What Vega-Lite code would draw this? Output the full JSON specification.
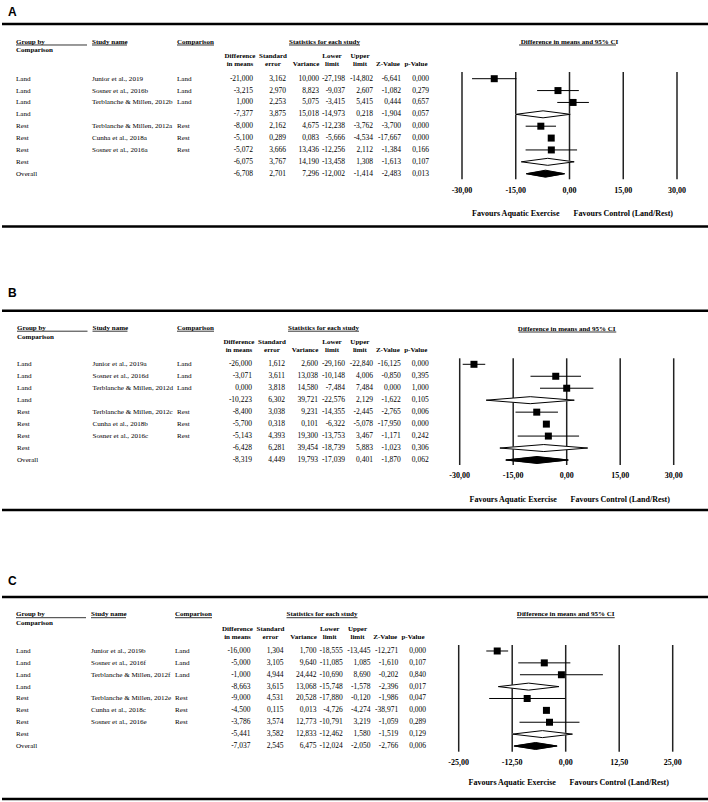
{
"$schema":"https://vega.github.io/schema/vega-lite/v6.json",
"padding":0,
"background":"white",
"spacing":0,
"config":{"font":"Liberation Serif","view":{"stroke":null},"axis":{"disable":true},"concat":{"spacing":0},
"locale":{"number":{"decimal":",","thousands":".","grouping":[3],"currency":["",""],"minus":"-"}}},
"datasets":{
"A":[
{"row":1,"type":"study","group":"Land","study":"Junior et al., 2019","comparison":"Land","diff":-21.000,"se":3.162,"variance":10.000,"lower":-27.198,"upper":-14.802,"z":-6.641,"p":0.000},
{"row":2,"type":"study","group":"Land","study":"Sosner et al., 2016b","comparison":"Land","diff":-3.215,"se":2.970,"variance":8.823,"lower":-9.037,"upper":2.607,"z":-1.082,"p":0.279},
{"row":3,"type":"study","group":"Land","study":"Terblanche & Millen, 2012b","comparison":"Land","diff":1.000,"se":2.253,"variance":5.075,"lower":-3.415,"upper":5.415,"z":0.444,"p":0.657},
{"row":4,"type":"subgroup","group":"Land","study":"","comparison":"","diff":-7.377,"se":3.875,"variance":15.018,"lower":-14.973,"upper":0.218,"z":-1.904,"p":0.057},
{"row":5,"type":"study","group":"Rest","study":"Terblanche & Millen, 2012a","comparison":"Rest","diff":-8.000,"se":2.162,"variance":4.675,"lower":-12.238,"upper":-3.762,"z":-3.700,"p":0.000},
{"row":6,"type":"study","group":"Rest","study":"Cunha et al., 2018a","comparison":"Rest","diff":-5.100,"se":0.289,"variance":0.083,"lower":-5.666,"upper":-4.534,"z":-17.667,"p":0.000},
{"row":7,"type":"study","group":"Rest","study":"Sosner et al., 2016a","comparison":"Rest","diff":-5.072,"se":3.666,"variance":13.436,"lower":-12.256,"upper":2.112,"z":-1.384,"p":0.166},
{"row":8,"type":"subgroup","group":"Rest","study":"","comparison":"","diff":-6.075,"se":3.767,"variance":14.190,"lower":-13.458,"upper":1.308,"z":-1.613,"p":0.107},
{"row":9,"type":"overall","group":"Overall","study":"","comparison":"","diff":-6.708,"se":2.701,"variance":7.296,"lower":-12.002,"upper":-1.414,"z":-2.483,"p":0.013}
],
"B":[
{"row":1,"type":"study","group":"Land","study":"Junior et al., 2019a","comparison":"Land","diff":-26.000,"se":1.612,"variance":2.600,"lower":-29.160,"upper":-22.840,"z":-16.125,"p":0.000},
{"row":2,"type":"study","group":"Land","study":"Sosner et al., 2016d","comparison":"Land","diff":-3.071,"se":3.611,"variance":13.038,"lower":-10.148,"upper":4.006,"z":-0.850,"p":0.395},
{"row":3,"type":"study","group":"Land","study":"Terblanche & Millen, 2012d","comparison":"Land","diff":0.000,"se":3.818,"variance":14.580,"lower":-7.484,"upper":7.484,"z":0.000,"p":1.000},
{"row":4,"type":"subgroup","group":"Land","study":"","comparison":"","diff":-10.223,"se":6.302,"variance":39.721,"lower":-22.576,"upper":2.129,"z":-1.622,"p":0.105},
{"row":5,"type":"study","group":"Rest","study":"Terblanche & Millen, 2012c","comparison":"Rest","diff":-8.400,"se":3.038,"variance":9.231,"lower":-14.355,"upper":-2.445,"z":-2.765,"p":0.006},
{"row":6,"type":"study","group":"Rest","study":"Cunha et al., 2018b","comparison":"Rest","diff":-5.700,"se":0.318,"variance":0.101,"lower":-6.322,"upper":-5.078,"z":-17.950,"p":0.000},
{"row":7,"type":"study","group":"Rest","study":"Sosner et al., 2016c","comparison":"Rest","diff":-5.143,"se":4.393,"variance":19.300,"lower":-13.753,"upper":3.467,"z":-1.171,"p":0.242},
{"row":8,"type":"subgroup","group":"Rest","study":"","comparison":"","diff":-6.428,"se":6.281,"variance":39.454,"lower":-18.739,"upper":5.883,"z":-1.023,"p":0.306},
{"row":9,"type":"overall","group":"Overall","study":"","comparison":"","diff":-8.319,"se":4.449,"variance":19.793,"lower":-17.039,"upper":0.401,"z":-1.870,"p":0.062}
],
"C":[
{"row":1,"type":"study","group":"Land","study":"Junior et al., 2019b","comparison":"Land","diff":-16.000,"se":1.304,"variance":1.700,"lower":-18.555,"upper":-13.445,"z":-12.271,"p":0.000},
{"row":2,"type":"study","group":"Land","study":"Sosner et al., 2016f","comparison":"Land","diff":-5.000,"se":3.105,"variance":9.640,"lower":-11.085,"upper":1.085,"z":-1.610,"p":0.107},
{"row":3,"type":"study","group":"Land","study":"Terblanche & Millen, 2012f","comparison":"Land","diff":-1.000,"se":4.944,"variance":24.442,"lower":-10.690,"upper":8.690,"z":-0.202,"p":0.840},
{"row":4,"type":"subgroup","group":"Land","study":"","comparison":"","diff":-8.663,"se":3.615,"variance":13.068,"lower":-15.748,"upper":-1.578,"z":-2.396,"p":0.017},
{"row":5,"type":"study","group":"Rest","study":"Terblanche & Millen, 2012e","comparison":"Rest","diff":-9.000,"se":4.531,"variance":20.528,"lower":-17.880,"upper":-0.120,"z":-1.986,"p":0.047},
{"row":6,"type":"study","group":"Rest","study":"Cunha et al., 2018c","comparison":"Rest","diff":-4.500,"se":0.115,"variance":0.013,"lower":-4.726,"upper":-4.274,"z":-38.971,"p":0.000},
{"row":7,"type":"study","group":"Rest","study":"Sosner et al., 2016e","comparison":"Rest","diff":-3.786,"se":3.574,"variance":12.773,"lower":-10.791,"upper":3.219,"z":-1.059,"p":0.289},
{"row":8,"type":"subgroup","group":"Rest","study":"","comparison":"","diff":-5.441,"se":3.582,"variance":12.833,"lower":-12.462,"upper":1.580,"z":-1.519,"p":0.129},
{"row":9,"type":"overall","group":"Overall","study":"","comparison":"","diff":-7.037,"se":2.545,"variance":6.475,"lower":-12.024,"upper":-2.050,"z":-2.766,"p":0.006}
],
"hdrL":[{"key":"group","h1":"Group by","h2":"Comparison"},{"key":"study","h1":"Study name","h2":""}],
"hdrN":[{"key":"diff","h1":"Difference","h2":"in means"},{"key":"se","h1":"Standard","h2":"error"},{"key":"variance","h1":"","h2":"Variance"},{"key":"lower","h1":"Lower","h2":"limit"},{"key":"upper","h1":"Upper","h2":"limit"},{"key":"z","h1":"","h2":"Z-Value"},{"key":"p","h1":"","h2":"p-Value"}],
"ticksAB":[{"t":-30},{"t":-15},{"t":0},{"t":15},{"t":30}],
"ticksC":[{"t":-25},{"t":-12.5},{"t":0},{"t":12.5},{"t":25}]
},
"vconcat":[
{
"width":708,"height":287,
"resolve":{"scale":{"x":"independent"}},
"layer":[
{"layer":[
{"data":{"values":[{}]},"mark":{"type":"rule","strokeWidth":2.5,"color":"black","xOffset":13},"encoding":{"y":{"datum":-3.606,"type":"quantitative","scale":{"domain":[-5.627,18.541],"reverse":true,"nice":false,"zero":false}}}},
{"data":{"values":[{}]},"mark":{"type":"rule","strokeWidth":2.5,"color":"black","xOffset":13},"encoding":{"y":{"datum":13.445,"type":"quantitative","scale":{"domain":[-5.627,18.541],"reverse":true,"nice":false,"zero":false}}}},
{"data":{"values":[{}]},"mark":{"type":"text","fontSize":7,"fontWeight":"bold","color":"black","align":"center","baseline":"middle"},"encoding":{"x":{"datum":0,"type":"quantitative","scale":{"domain":[-30,30],"range":[460,675],"nice":false,"zero":false}},"y":{"datum":-2.091,"type":"quantitative","scale":{"domain":[-5.627,18.541],"reverse":true,"nice":false,"zero":false}},"text":{"value":"Difference in means and 95% CI"}}},
{"data":{"values":[{}]},"mark":{"type":"rule","strokeWidth":0.8,"color":"black"},"encoding":{"x":{"datum":-14.09,"type":"quantitative","scale":{"domain":[-30,30],"range":[460,675],"nice":false,"zero":false}},"x2":{"datum":12.98},"y":{"datum":-1.838,"type":"quantitative","scale":{"domain":[-5.627,18.541],"reverse":true,"nice":false,"zero":false}}}},
{"data":{"name":"ticksAB"},"mark":{"type":"rule","strokeWidth":1.5,"color":"#222222"},"encoding":{"x":{"field":"t","type":"quantitative","scale":{"domain":[-30,30],"range":[460,675],"nice":false,"zero":false}},"y":{"datum":0.436,"type":"quantitative","scale":{"domain":[-5.627,18.541],"reverse":true,"nice":false,"zero":false}},"y2":{"datum":9.472}}},
{"data":{"name":"ticksAB"},"mark":{"type":"text","fontSize":8,"fontWeight":"bold","color":"black","align":"center","baseline":"middle"},"encoding":{"x":{"field":"t","type":"quantitative","scale":{"domain":[-30,30],"range":[460,675],"nice":false,"zero":false}},"y":{"datum":10.457,"type":"quantitative","scale":{"domain":[-5.627,18.541],"reverse":true,"nice":false,"zero":false}},"text":{"field":"t","type":"quantitative","format":".2f"}}},
{"data":{"values":[{}]},"mark":{"type":"text","fontSize":8,"fontWeight":"bold","color":"black","align":"center","baseline":"middle"},"encoding":{"x":{"datum":-15,"type":"quantitative","scale":{"domain":[-30,30],"range":[460,675],"nice":false,"zero":false}},"y":{"datum":12.394,"type":"quantitative","scale":{"domain":[-5.627,18.541],"reverse":true,"nice":false,"zero":false}},"text":{"value":"Favours Aquatic Exercise"}}},
{"data":{"values":[{}]},"mark":{"type":"text","fontSize":8,"fontWeight":"bold","color":"black","align":"center","baseline":"middle"},"encoding":{"x":{"datum":15,"type":"quantitative","scale":{"domain":[-30,30],"range":[460,675],"nice":false,"zero":false}},"y":{"datum":12.394,"type":"quantitative","scale":{"domain":[-5.627,18.541],"reverse":true,"nice":false,"zero":false}},"text":{"value":"Favours Control (Land/Rest)"}}},
{"data":{"name":"A"},"transform":[{"filter":{"field":"type","equal":"study"}}],"mark":{"type":"rule","strokeWidth":1,"color":"black"},"encoding":{"x":{"field":"lower","type":"quantitative","scale":{"domain":[-30,30],"range":[460,675],"nice":false,"zero":false}},"x2":{"field":"upper"},"y":{"field":"row","type":"quantitative","scale":{"domain":[-5.627,18.541],"reverse":true,"nice":false,"zero":false}}}},
{"data":{"name":"A"},"transform":[{"filter":{"field":"type","equal":"subgroup"}},{"fold":["lower","diff","upper"],"as":["k","v"]}],"mark":{"type":"trail","color":"white"},"encoding":{"x":{"field":"v","type":"quantitative","scale":{"domain":[-30,30],"range":[460,675],"nice":false,"zero":false}},"y":{"field":"row","type":"quantitative","scale":{"domain":[-5.627,18.541],"reverse":true,"nice":false,"zero":false}},"detail":{"field":"row","type":"nominal"},"size":{"condition":{"test":"datum.k === 'diff'","value":7},"value":0}}},
{"data":{"name":"A"},"transform":[{"filter":{"field":"type","equal":"overall"}},{"fold":["lower","diff","upper"],"as":["k","v"]}],"mark":{"type":"trail","color":"black"},"encoding":{"x":{"field":"v","type":"quantitative","scale":{"domain":[-30,30],"range":[460,675],"nice":false,"zero":false}},"y":{"field":"row","type":"quantitative","scale":{"domain":[-5.627,18.541],"reverse":true,"nice":false,"zero":false}},"detail":{"field":"row","type":"nominal"},"size":{"condition":{"test":"datum.k === 'diff'","value":7},"value":0}}},
{"data":{"name":"A"},"transform":[{"filter":"datum.type !== 'study'"}],"mark":{"type":"rule","strokeWidth":1,"color":"black","y2Offset":-3.5},"encoding":{"x":{"field":"lower","type":"quantitative","scale":{"domain":[-30,30],"range":[460,675],"nice":false,"zero":false}},"x2":{"field":"diff"},"y":{"field":"row","type":"quantitative","scale":{"domain":[-5.627,18.541],"reverse":true,"nice":false,"zero":false}},"y2":{"field":"row"}}},
{"data":{"name":"A"},"transform":[{"filter":"datum.type !== 'study'"}],"mark":{"type":"rule","strokeWidth":1,"color":"black","y2Offset":3.5},"encoding":{"x":{"field":"lower","type":"quantitative","scale":{"domain":[-30,30],"range":[460,675],"nice":false,"zero":false}},"x2":{"field":"diff"},"y":{"field":"row","type":"quantitative","scale":{"domain":[-5.627,18.541],"reverse":true,"nice":false,"zero":false}},"y2":{"field":"row"}}},
{"data":{"name":"A"},"transform":[{"filter":"datum.type !== 'study'"}],"mark":{"type":"rule","strokeWidth":1,"color":"black","yOffset":-3.5},"encoding":{"x":{"field":"diff","type":"quantitative","scale":{"domain":[-30,30],"range":[460,675],"nice":false,"zero":false}},"x2":{"field":"upper"},"y":{"field":"row","type":"quantitative","scale":{"domain":[-5.627,18.541],"reverse":true,"nice":false,"zero":false}},"y2":{"field":"row"}}},
{"data":{"name":"A"},"transform":[{"filter":"datum.type !== 'study'"}],"mark":{"type":"rule","strokeWidth":1,"color":"black","yOffset":3.5},"encoding":{"x":{"field":"diff","type":"quantitative","scale":{"domain":[-30,30],"range":[460,675],"nice":false,"zero":false}},"x2":{"field":"upper"},"y":{"field":"row","type":"quantitative","scale":{"domain":[-5.627,18.541],"reverse":true,"nice":false,"zero":false}},"y2":{"field":"row"}}},
{"data":{"name":"A"},"transform":[{"filter":{"field":"type","equal":"study"}}],"mark":{"type":"point","shape":"square","filled":true,"size":49,"color":"black","opacity":1},"encoding":{"x":{"field":"diff","type":"quantitative","scale":{"domain":[-30,30],"range":[460,675],"nice":false,"zero":false}},"y":{"field":"row","type":"quantitative","scale":{"domain":[-5.627,18.541],"reverse":true,"nice":false,"zero":false}}}}
]},
{"layer":[
{"data":{"values":[{}]},"mark":{"type":"text","font":"Liberation Sans","fontSize":12,"fontWeight":"bold","color":"black","align":"left","baseline":"alphabetic","dx":-8},"encoding":{"x":{"datum":"group","type":"nominal","scale":{"type":"point","domain":["group","study"],"range":[14,90],"padding":0}},"y":{"datum":-4.28,"type":"quantitative","scale":{"domain":[-5.627,18.541],"reverse":true,"nice":false,"zero":false}},"text":{"value":"A"}}},
{"data":{"name":"A"},"transform":[{"fold":["group","study"],"as":["key","txt"]}],"mark":{"type":"text","fontSize":7.1,"color":"black","align":"left","baseline":"middle"},"encoding":{"x":{"field":"key","type":"nominal","scale":{"type":"point","domain":["group","study"],"range":[14,90],"padding":0}},"y":{"field":"row","type":"quantitative","scale":{"domain":[-5.627,18.541],"reverse":true,"nice":false,"zero":false}},"text":{"field":"txt","type":"nominal"}}},
{"data":{"name":"hdrL"},"mark":{"type":"text","fontSize":7,"fontWeight":"bold","color":"black","align":"left","baseline":"middle"},"encoding":{"x":{"field":"key","type":"nominal","scale":{"type":"point","domain":["group","study"],"range":[14,90],"padding":0}},"y":{"datum":-2.091,"type":"quantitative","scale":{"domain":[-5.627,18.541],"reverse":true,"nice":false,"zero":false}},"text":{"field":"h1","type":"nominal"}}},
{"data":{"name":"hdrL"},"mark":{"type":"text","fontSize":7,"fontWeight":"bold","color":"black","align":"left","baseline":"middle"},"encoding":{"x":{"field":"key","type":"nominal","scale":{"type":"point","domain":["group","study"],"range":[14,90],"padding":0}},"y":{"datum":-1.417,"type":"quantitative","scale":{"domain":[-5.627,18.541],"reverse":true,"nice":false,"zero":false}},"text":{"field":"h2","type":"nominal"}}},
{"data":{"values":[{}]},"mark":{"type":"rule","strokeWidth":0.8,"color":"black","x2Offset":-5},"encoding":{"x":{"datum":"group","type":"nominal","scale":{"type":"point","domain":["group","study"],"range":[14,90],"padding":0}},"x2":{"datum":"study"},"y":{"datum":-1.838,"type":"quantitative","scale":{"domain":[-5.627,18.541],"reverse":true,"nice":false,"zero":false}}}},
{"data":{"values":[{}]},"mark":{"type":"rule","strokeWidth":0.8,"color":"black","x2Offset":35},"encoding":{"x":{"datum":"study","type":"nominal","scale":{"type":"point","domain":["group","study"],"range":[14,90],"padding":0}},"x2":{"datum":"study"},"y":{"datum":-1.838,"type":"quantitative","scale":{"domain":[-5.627,18.541],"reverse":true,"nice":false,"zero":false}}}}
]},
{"layer":[
{"data":{"name":"A"},"mark":{"type":"text","fontSize":7.1,"color":"black","align":"left","baseline":"middle"},"encoding":{"x":{"datum":"comparison","type":"nominal","scale":{"type":"point","domain":["comparison"],"range":[175,175],"padding":0}},"y":{"field":"row","type":"quantitative","scale":{"domain":[-5.627,18.541],"reverse":true,"nice":false,"zero":false}},"text":{"field":"comparison","type":"nominal"}}},
{"data":{"values":[{}]},"mark":{"type":"text","fontSize":7,"fontWeight":"bold","color":"black","align":"left","baseline":"middle"},"encoding":{"x":{"datum":"comparison","type":"nominal","scale":{"type":"point","domain":["comparison"],"range":[175,175],"padding":0}},"y":{"datum":-2.091,"type":"quantitative","scale":{"domain":[-5.627,18.541],"reverse":true,"nice":false,"zero":false}},"text":{"value":"Comparison"}}},
{"data":{"values":[{}]},"mark":{"type":"rule","strokeWidth":0.8,"color":"black","x2Offset":37},"encoding":{"x":{"datum":"comparison","type":"nominal","scale":{"type":"point","domain":["comparison"],"range":[175,175],"padding":0}},"x2":{"datum":"comparison"},"y":{"datum":-1.838,"type":"quantitative","scale":{"domain":[-5.627,18.541],"reverse":true,"nice":false,"zero":false}}}}
]},
{"layer":[
{"data":{"name":"A"},"transform":[{"fold":["diff","se","variance"],"as":["key","val"]}],"mark":{"type":"text","fontSize":7.5,"color":"black","align":"right","baseline":"middle"},"encoding":{"x":{"field":"key","type":"nominal","scale":{"type":"point","domain":["diff","se","variance"],"range":[251,317],"padding":0}},"y":{"field":"row","type":"quantitative","scale":{"domain":[-5.627,18.541],"reverse":true,"nice":false,"zero":false}},"text":{"field":"val","type":"quantitative","format":".3f"}}},
{"data":{"name":"hdrN"},"transform":[{"filter":{"field":"key","oneOf":["diff","se","variance"]}}],"mark":{"type":"text","fontSize":7,"fontWeight":"bold","color":"black","align":"center","baseline":"middle","dx":-13},"encoding":{"x":{"field":"key","type":"nominal","scale":{"type":"point","domain":["diff","se","variance"],"range":[251,317],"padding":0}},"y":{"datum":-0.912,"type":"quantitative","scale":{"domain":[-5.627,18.541],"reverse":true,"nice":false,"zero":false}},"text":{"field":"h1","type":"nominal"}}},
{"data":{"name":"hdrN"},"transform":[{"filter":{"field":"key","oneOf":["diff","se","variance"]}}],"mark":{"type":"text","fontSize":7,"fontWeight":"bold","color":"black","align":"center","baseline":"middle","dx":-13},"encoding":{"x":{"field":"key","type":"nominal","scale":{"type":"point","domain":["diff","se","variance"],"range":[251,317],"padding":0}},"y":{"datum":-0.238,"type":"quantitative","scale":{"domain":[-5.627,18.541],"reverse":true,"nice":false,"zero":false}},"text":{"field":"h2","type":"nominal"}}},
{"data":{"values":[{}]},"mark":{"type":"text","fontSize":7,"fontWeight":"bold","color":"black","align":"center","baseline":"middle","dx":5.5},"encoding":{"x":{"datum":"variance","type":"nominal","scale":{"type":"point","domain":["diff","se","variance"],"range":[251,317],"padding":0}},"y":{"datum":-2.091,"type":"quantitative","scale":{"domain":[-5.627,18.541],"reverse":true,"nice":false,"zero":false}},"text":{"value":"Statistics for each study"}}},
{"data":{"values":[{}]},"mark":{"type":"rule","strokeWidth":0.8,"color":"black","xOffset":3,"x2Offset":41},"encoding":{"x":{"datum":"se","type":"nominal","scale":{"type":"point","domain":["diff","se","variance"],"range":[251,317],"padding":0}},"x2":{"datum":"variance"},"y":{"datum":-1.838,"type":"quantitative","scale":{"domain":[-5.627,18.541],"reverse":true,"nice":false,"zero":false}}}}
]},
{"layer":[
{"data":{"name":"A"},"transform":[{"fold":["lower","upper","z","p"],"as":["key","val"]}],"mark":{"type":"text","fontSize":7.5,"color":"black","align":"right","baseline":"middle"},"encoding":{"x":{"field":"key","type":"nominal","scale":{"type":"point","domain":["lower","upper","z","p"],"range":[343,427],"padding":0}},"y":{"field":"row","type":"quantitative","scale":{"domain":[-5.627,18.541],"reverse":true,"nice":false,"zero":false}},"text":{"field":"val","type":"quantitative","format":".3f"}}},
{"data":{"name":"hdrN"},"transform":[{"filter":{"field":"key","oneOf":["lower","upper","z","p"]}}],"mark":{"type":"text","fontSize":7,"fontWeight":"bold","color":"black","align":"center","baseline":"middle","dx":-13},"encoding":{"x":{"field":"key","type":"nominal","scale":{"type":"point","domain":["lower","upper","z","p"],"range":[343,427],"padding":0}},"y":{"datum":-0.912,"type":"quantitative","scale":{"domain":[-5.627,18.541],"reverse":true,"nice":false,"zero":false}},"text":{"field":"h1","type":"nominal"}}},
{"data":{"name":"hdrN"},"transform":[{"filter":{"field":"key","oneOf":["lower","upper","z","p"]}}],"mark":{"type":"text","fontSize":7,"fontWeight":"bold","color":"black","align":"center","baseline":"middle","dx":-13},"encoding":{"x":{"field":"key","type":"nominal","scale":{"type":"point","domain":["lower","upper","z","p"],"range":[343,427],"padding":0}},"y":{"datum":-0.238,"type":"quantitative","scale":{"domain":[-5.627,18.541],"reverse":true,"nice":false,"zero":false}},"text":{"field":"h2","type":"nominal"}}}
]}
]
},
{
"width":708,"height":287,
"resolve":{"scale":{"x":"independent"}},
"layer":[
{"layer":[
{"data":{"values":[{}]},"mark":{"type":"rule","strokeWidth":2.5,"color":"black","xOffset":13},"encoding":{"y":{"datum":-3.481,"type":"quantitative","scale":{"domain":[-5.462,18.53],"reverse":true,"nice":false,"zero":false}}}},
{"data":{"values":[{}]},"mark":{"type":"rule","strokeWidth":2.5,"color":"black","xOffset":13,"x2Offset":-6},"encoding":{"y":{"datum":13.179,"type":"quantitative","scale":{"domain":[-5.462,18.53],"reverse":true,"nice":false,"zero":false}}}},
{"data":{"values":[{}]},"mark":{"type":"text","fontSize":7,"fontWeight":"bold","color":"black","align":"center","baseline":"middle"},"encoding":{"x":{"datum":0,"type":"quantitative","scale":{"domain":[-30,30],"range":[457.7,671.7],"nice":false,"zero":false}},"y":{"datum":-1.926,"type":"quantitative","scale":{"domain":[-5.462,18.53],"reverse":true,"nice":false,"zero":false}},"text":{"value":"Difference in means and 95% CI"}}},
{"data":{"values":[{}]},"mark":{"type":"rule","strokeWidth":0.8,"color":"black"},"encoding":{"x":{"datum":-13.46,"type":"quantitative","scale":{"domain":[-30,30],"range":[457.7,671.7],"nice":false,"zero":false}},"x2":{"datum":13.9},"y":{"datum":-1.7,"type":"quantitative","scale":{"domain":[-5.462,18.53],"reverse":true,"nice":false,"zero":false}}}},
{"data":{"name":"ticksAB"},"mark":{"type":"rule","strokeWidth":1.5,"color":"#222222"},"encoding":{"x":{"field":"t","type":"quantitative","scale":{"domain":[-30,30],"range":[457.7,671.7],"nice":false,"zero":false}},"y":{"datum":0.498,"type":"quantitative","scale":{"domain":[-5.462,18.53],"reverse":true,"nice":false,"zero":false}},"y2":{"datum":9.418}}},
{"data":{"name":"ticksAB"},"mark":{"type":"text","fontSize":8,"fontWeight":"bold","color":"black","align":"center","baseline":"middle"},"encoding":{"x":{"field":"t","type":"quantitative","scale":{"domain":[-30,30],"range":[457.7,671.7],"nice":false,"zero":false}},"y":{"datum":10.312,"type":"quantitative","scale":{"domain":[-5.462,18.53],"reverse":true,"nice":false,"zero":false}},"text":{"field":"t","type":"quantitative","format":".2f"}}},
{"data":{"values":[{}]},"mark":{"type":"text","fontSize":8,"fontWeight":"bold","color":"black","align":"center","baseline":"middle"},"encoding":{"x":{"datum":-15,"type":"quantitative","scale":{"domain":[-30,30],"range":[457.7,671.7],"nice":false,"zero":false}},"y":{"datum":12.344,"type":"quantitative","scale":{"domain":[-5.462,18.53],"reverse":true,"nice":false,"zero":false}},"text":{"value":"Favours Aquatic Exercise"}}},
{"data":{"values":[{}]},"mark":{"type":"text","fontSize":8,"fontWeight":"bold","color":"black","align":"center","baseline":"middle"},"encoding":{"x":{"datum":15,"type":"quantitative","scale":{"domain":[-30,30],"range":[457.7,671.7],"nice":false,"zero":false}},"y":{"datum":12.344,"type":"quantitative","scale":{"domain":[-5.462,18.53],"reverse":true,"nice":false,"zero":false}},"text":{"value":"Favours Control (Land/Rest)"}}},
{"data":{"name":"B"},"transform":[{"filter":{"field":"type","equal":"study"}}],"mark":{"type":"rule","strokeWidth":1,"color":"black"},"encoding":{"x":{"field":"lower","type":"quantitative","scale":{"domain":[-30,30],"range":[457.7,671.7],"nice":false,"zero":false}},"x2":{"field":"upper"},"y":{"field":"row","type":"quantitative","scale":{"domain":[-5.462,18.53],"reverse":true,"nice":false,"zero":false}}}},
{"data":{"name":"B"},"transform":[{"filter":{"field":"type","equal":"subgroup"}},{"fold":["lower","diff","upper"],"as":["k","v"]}],"mark":{"type":"trail","color":"white"},"encoding":{"x":{"field":"v","type":"quantitative","scale":{"domain":[-30,30],"range":[457.7,671.7],"nice":false,"zero":false}},"y":{"field":"row","type":"quantitative","scale":{"domain":[-5.462,18.53],"reverse":true,"nice":false,"zero":false}},"detail":{"field":"row","type":"nominal"},"size":{"condition":{"test":"datum.k === 'diff'","value":7},"value":0}}},
{"data":{"name":"B"},"transform":[{"filter":{"field":"type","equal":"overall"}},{"fold":["lower","diff","upper"],"as":["k","v"]}],"mark":{"type":"trail","color":"black"},"encoding":{"x":{"field":"v","type":"quantitative","scale":{"domain":[-30,30],"range":[457.7,671.7],"nice":false,"zero":false}},"y":{"field":"row","type":"quantitative","scale":{"domain":[-5.462,18.53],"reverse":true,"nice":false,"zero":false}},"detail":{"field":"row","type":"nominal"},"size":{"condition":{"test":"datum.k === 'diff'","value":7},"value":0}}},
{"data":{"name":"B"},"transform":[{"filter":"datum.type !== 'study'"}],"mark":{"type":"rule","strokeWidth":1,"color":"black","y2Offset":-3.5},"encoding":{"x":{"field":"lower","type":"quantitative","scale":{"domain":[-30,30],"range":[457.7,671.7],"nice":false,"zero":false}},"x2":{"field":"diff"},"y":{"field":"row","type":"quantitative","scale":{"domain":[-5.462,18.53],"reverse":true,"nice":false,"zero":false}},"y2":{"field":"row"}}},
{"data":{"name":"B"},"transform":[{"filter":"datum.type !== 'study'"}],"mark":{"type":"rule","strokeWidth":1,"color":"black","y2Offset":3.5},"encoding":{"x":{"field":"lower","type":"quantitative","scale":{"domain":[-30,30],"range":[457.7,671.7],"nice":false,"zero":false}},"x2":{"field":"diff"},"y":{"field":"row","type":"quantitative","scale":{"domain":[-5.462,18.53],"reverse":true,"nice":false,"zero":false}},"y2":{"field":"row"}}},
{"data":{"name":"B"},"transform":[{"filter":"datum.type !== 'study'"}],"mark":{"type":"rule","strokeWidth":1,"color":"black","yOffset":-3.5},"encoding":{"x":{"field":"diff","type":"quantitative","scale":{"domain":[-30,30],"range":[457.7,671.7],"nice":false,"zero":false}},"x2":{"field":"upper"},"y":{"field":"row","type":"quantitative","scale":{"domain":[-5.462,18.53],"reverse":true,"nice":false,"zero":false}},"y2":{"field":"row"}}},
{"data":{"name":"B"},"transform":[{"filter":"datum.type !== 'study'"}],"mark":{"type":"rule","strokeWidth":1,"color":"black","yOffset":3.5},"encoding":{"x":{"field":"diff","type":"quantitative","scale":{"domain":[-30,30],"range":[457.7,671.7],"nice":false,"zero":false}},"x2":{"field":"upper"},"y":{"field":"row","type":"quantitative","scale":{"domain":[-5.462,18.53],"reverse":true,"nice":false,"zero":false}},"y2":{"field":"row"}}},
{"data":{"name":"B"},"transform":[{"filter":{"field":"type","equal":"study"}}],"mark":{"type":"point","shape":"square","filled":true,"size":49,"color":"black","opacity":1},"encoding":{"x":{"field":"diff","type":"quantitative","scale":{"domain":[-30,30],"range":[457.7,671.7],"nice":false,"zero":false}},"y":{"field":"row","type":"quantitative","scale":{"domain":[-5.462,18.53],"reverse":true,"nice":false,"zero":false}}}}
]},
{"layer":[
{"data":{"values":[{}]},"mark":{"type":"text","font":"Liberation Sans","fontSize":12,"fontWeight":"bold","color":"black","align":"left","baseline":"alphabetic","dx":-9},"encoding":{"x":{"datum":"group","type":"nominal","scale":{"type":"point","domain":["group","study"],"range":[15,90.5],"padding":0}},"y":{"datum":-4.626,"type":"quantitative","scale":{"domain":[-5.462,18.53],"reverse":true,"nice":false,"zero":false}},"text":{"value":"B"}}},
{"data":{"name":"B"},"transform":[{"fold":["group","study"],"as":["key","txt"]}],"mark":{"type":"text","fontSize":7.1,"color":"black","align":"left","baseline":"middle"},"encoding":{"x":{"field":"key","type":"nominal","scale":{"type":"point","domain":["group","study"],"range":[15,90.5],"padding":0}},"y":{"field":"row","type":"quantitative","scale":{"domain":[-5.462,18.53],"reverse":true,"nice":false,"zero":false}},"text":{"field":"txt","type":"nominal"}}},
{"data":{"name":"hdrL"},"mark":{"type":"text","fontSize":7,"fontWeight":"bold","color":"black","align":"left","baseline":"middle"},"encoding":{"x":{"field":"key","type":"nominal","scale":{"type":"point","domain":["group","study"],"range":[15,90.5],"padding":0}},"y":{"datum":-2.06,"type":"quantitative","scale":{"domain":[-5.462,18.53],"reverse":true,"nice":false,"zero":false}},"text":{"field":"h1","type":"nominal"}}},
{"data":{"name":"hdrL"},"mark":{"type":"text","fontSize":7,"fontWeight":"bold","color":"black","align":"left","baseline":"middle"},"encoding":{"x":{"field":"key","type":"nominal","scale":{"type":"point","domain":["group","study"],"range":[15,90.5],"padding":0}},"y":{"datum":-1.307,"type":"quantitative","scale":{"domain":[-5.462,18.53],"reverse":true,"nice":false,"zero":false}},"text":{"field":"h2","type":"nominal"}}},
{"data":{"values":[{}]},"mark":{"type":"rule","strokeWidth":0.8,"color":"black","x2Offset":-5},"encoding":{"x":{"datum":"group","type":"nominal","scale":{"type":"point","domain":["group","study"],"range":[15,90.5],"padding":0}},"x2":{"datum":"study"},"y":{"datum":-1.767,"type":"quantitative","scale":{"domain":[-5.462,18.53],"reverse":true,"nice":false,"zero":false}}}},
{"data":{"values":[{}]},"mark":{"type":"rule","strokeWidth":0.8,"color":"black","x2Offset":35},"encoding":{"x":{"datum":"study","type":"nominal","scale":{"type":"point","domain":["group","study"],"range":[15,90.5],"padding":0}},"x2":{"datum":"study"},"y":{"datum":-1.767,"type":"quantitative","scale":{"domain":[-5.462,18.53],"reverse":true,"nice":false,"zero":false}}}}
]},
{"layer":[
{"data":{"name":"B"},"mark":{"type":"text","fontSize":7.1,"color":"black","align":"left","baseline":"middle"},"encoding":{"x":{"datum":"comparison","type":"nominal","scale":{"type":"point","domain":["comparison"],"range":[175,175],"padding":0}},"y":{"field":"row","type":"quantitative","scale":{"domain":[-5.462,18.53],"reverse":true,"nice":false,"zero":false}},"text":{"field":"comparison","type":"nominal"}}},
{"data":{"values":[{}]},"mark":{"type":"text","fontSize":7,"fontWeight":"bold","color":"black","align":"left","baseline":"middle"},"encoding":{"x":{"datum":"comparison","type":"nominal","scale":{"type":"point","domain":["comparison"],"range":[175,175],"padding":0}},"y":{"datum":-2.06,"type":"quantitative","scale":{"domain":[-5.462,18.53],"reverse":true,"nice":false,"zero":false}},"text":{"value":"Comparison"}}},
{"data":{"values":[{}]},"mark":{"type":"rule","strokeWidth":0.8,"color":"black","x2Offset":37},"encoding":{"x":{"datum":"comparison","type":"nominal","scale":{"type":"point","domain":["comparison"],"range":[175,175],"padding":0}},"x2":{"datum":"comparison"},"y":{"datum":-1.767,"type":"quantitative","scale":{"domain":[-5.462,18.53],"reverse":true,"nice":false,"zero":false}}}}
]},
{"layer":[
{"data":{"name":"B"},"transform":[{"fold":["diff","se","variance"],"as":["key","val"]}],"mark":{"type":"text","fontSize":7.5,"color":"black","align":"right","baseline":"middle"},"encoding":{"x":{"field":"key","type":"nominal","scale":{"type":"point","domain":["diff","se","variance"],"range":[250,316],"padding":0}},"y":{"field":"row","type":"quantitative","scale":{"domain":[-5.462,18.53],"reverse":true,"nice":false,"zero":false}},"text":{"field":"val","type":"quantitative","format":".3f"}}},
{"data":{"name":"hdrN"},"transform":[{"filter":{"field":"key","oneOf":["diff","se","variance"]}}],"mark":{"type":"text","fontSize":7,"fontWeight":"bold","color":"black","align":"center","baseline":"middle","dx":-13},"encoding":{"x":{"field":"key","type":"nominal","scale":{"type":"point","domain":["diff","se","variance"],"range":[250,316],"padding":0}},"y":{"datum":-0.889,"type":"quantitative","scale":{"domain":[-5.462,18.53],"reverse":true,"nice":false,"zero":false}},"text":{"field":"h1","type":"nominal"}}},
{"data":{"name":"hdrN"},"transform":[{"filter":{"field":"key","oneOf":["diff","se","variance"]}}],"mark":{"type":"text","fontSize":7,"fontWeight":"bold","color":"black","align":"center","baseline":"middle","dx":-13},"encoding":{"x":{"field":"key","type":"nominal","scale":{"type":"point","domain":["diff","se","variance"],"range":[250,316],"padding":0}},"y":{"datum":-0.196,"type":"quantitative","scale":{"domain":[-5.462,18.53],"reverse":true,"nice":false,"zero":false}},"text":{"field":"h2","type":"nominal"}}},
{"data":{"values":[{}]},"mark":{"type":"text","fontSize":7,"fontWeight":"bold","color":"black","align":"center","baseline":"middle","dx":5.5},"encoding":{"x":{"datum":"variance","type":"nominal","scale":{"type":"point","domain":["diff","se","variance"],"range":[250,316],"padding":0}},"y":{"datum":-2.06,"type":"quantitative","scale":{"domain":[-5.462,18.53],"reverse":true,"nice":false,"zero":false}},"text":{"value":"Statistics for each study"}}},
{"data":{"values":[{}]},"mark":{"type":"rule","strokeWidth":0.8,"color":"black","xOffset":3,"x2Offset":41},"encoding":{"x":{"datum":"se","type":"nominal","scale":{"type":"point","domain":["diff","se","variance"],"range":[250,316],"padding":0}},"x2":{"datum":"variance"},"y":{"datum":-1.767,"type":"quantitative","scale":{"domain":[-5.462,18.53],"reverse":true,"nice":false,"zero":false}}}}
]},
{"layer":[
{"data":{"name":"B"},"transform":[{"fold":["lower","upper","z","p"],"as":["key","val"]}],"mark":{"type":"text","fontSize":7.5,"color":"black","align":"right","baseline":"middle"},"encoding":{"x":{"field":"key","type":"nominal","scale":{"type":"point","domain":["lower","upper","z","p"],"range":[343,426.7],"padding":0}},"y":{"field":"row","type":"quantitative","scale":{"domain":[-5.462,18.53],"reverse":true,"nice":false,"zero":false}},"text":{"field":"val","type":"quantitative","format":".3f"}}},
{"data":{"name":"hdrN"},"transform":[{"filter":{"field":"key","oneOf":["lower","upper","z","p"]}}],"mark":{"type":"text","fontSize":7,"fontWeight":"bold","color":"black","align":"center","baseline":"middle","dx":-13},"encoding":{"x":{"field":"key","type":"nominal","scale":{"type":"point","domain":["lower","upper","z","p"],"range":[343,426.7],"padding":0}},"y":{"datum":-0.889,"type":"quantitative","scale":{"domain":[-5.462,18.53],"reverse":true,"nice":false,"zero":false}},"text":{"field":"h1","type":"nominal"}}},
{"data":{"name":"hdrN"},"transform":[{"filter":{"field":"key","oneOf":["lower","upper","z","p"]}}],"mark":{"type":"text","fontSize":7,"fontWeight":"bold","color":"black","align":"center","baseline":"middle","dx":-13},"encoding":{"x":{"field":"key","type":"nominal","scale":{"type":"point","domain":["lower","upper","z","p"],"range":[343,426.7],"padding":0}},"y":{"datum":-0.196,"type":"quantitative","scale":{"domain":[-5.462,18.53],"reverse":true,"nice":false,"zero":false}},"text":{"field":"h2","type":"nominal"}}}
]}
]
},
{
"width":708,"height":228,
"resolve":{"scale":{"x":"independent"}},
"layer":[
{"layer":[
{"data":{"values":[{}]},"mark":{"type":"rule","strokeWidth":2.5,"color":"black","xOffset":13,"x2Offset":-2},"encoding":{"y":{"datum":-3.547,"type":"quantitative","scale":{"domain":[-5.484,13.716],"reverse":true,"nice":false,"zero":false}}}},
{"data":{"values":[{}]},"mark":{"type":"rule","strokeWidth":2.5,"color":"black","xOffset":13,"x2Offset":-2},"encoding":{"y":{"datum":13.463,"type":"quantitative","scale":{"domain":[-5.484,13.716],"reverse":true,"nice":false,"zero":false}}}},
{"data":{"values":[{}]},"mark":{"type":"text","fontSize":7,"fontWeight":"bold","color":"black","align":"center","baseline":"middle"},"encoding":{"x":{"datum":0,"type":"quantitative","scale":{"domain":[-25,25],"range":[456.7,670.7],"nice":false,"zero":false}},"y":{"datum":-2.116,"type":"quantitative","scale":{"domain":[-5.484,13.716],"reverse":true,"nice":false,"zero":false}},"text":{"value":"Difference in means and 95% CI"}}},
{"data":{"values":[{}]},"mark":{"type":"rule","strokeWidth":0.8,"color":"black"},"encoding":{"x":{"datum":-11.38,"type":"quantitative","scale":{"domain":[-25,25],"range":[456.7,670.7],"nice":false,"zero":false}},"x2":{"datum":11.45},"y":{"datum":-1.804,"type":"quantitative","scale":{"domain":[-5.484,13.716],"reverse":true,"nice":false,"zero":false}}}},
{"data":{"name":"ticksC"},"mark":{"type":"rule","strokeWidth":1.5,"color":"#222222"},"encoding":{"x":{"field":"t","type":"quantitative","scale":{"domain":[-25,25],"range":[456.7,670.7],"nice":false,"zero":false}},"y":{"datum":0.495,"type":"quantitative","scale":{"domain":[-5.484,13.716],"reverse":true,"nice":false,"zero":false}},"y2":{"datum":9.48}}},
{"data":{"name":"ticksC"},"mark":{"type":"text","fontSize":8,"fontWeight":"bold","color":"black","align":"center","baseline":"middle"},"encoding":{"x":{"field":"t","type":"quantitative","scale":{"domain":[-25,25],"range":[456.7,670.7],"nice":false,"zero":false}},"y":{"datum":10.457,"type":"quantitative","scale":{"domain":[-5.484,13.716],"reverse":true,"nice":false,"zero":false}},"text":{"field":"t","type":"quantitative","format":".2f"}}},
{"data":{"values":[{}]},"mark":{"type":"text","fontSize":8,"fontWeight":"bold","color":"black","align":"center","baseline":"middle"},"encoding":{"x":{"datum":-12.5,"type":"quantitative","scale":{"domain":[-25,25],"range":[456.7,670.7],"nice":false,"zero":false}},"y":{"datum":12.116,"type":"quantitative","scale":{"domain":[-5.484,13.716],"reverse":true,"nice":false,"zero":false}},"text":{"value":"Favours Aquatic Exercise"}}},
{"data":{"values":[{}]},"mark":{"type":"text","fontSize":8,"fontWeight":"bold","color":"black","align":"center","baseline":"middle"},"encoding":{"x":{"datum":12.5,"type":"quantitative","scale":{"domain":[-25,25],"range":[456.7,670.7],"nice":false,"zero":false}},"y":{"datum":12.116,"type":"quantitative","scale":{"domain":[-5.484,13.716],"reverse":true,"nice":false,"zero":false}},"text":{"value":"Favours Control (Land/Rest)"}}},
{"data":{"name":"C"},"transform":[{"filter":{"field":"type","equal":"study"}}],"mark":{"type":"rule","strokeWidth":1,"color":"black"},"encoding":{"x":{"field":"lower","type":"quantitative","scale":{"domain":[-25,25],"range":[456.7,670.7],"nice":false,"zero":false}},"x2":{"field":"upper"},"y":{"field":"row","type":"quantitative","scale":{"domain":[-5.484,13.716],"reverse":true,"nice":false,"zero":false}}}},
{"data":{"name":"C"},"transform":[{"filter":{"field":"type","equal":"subgroup"}},{"fold":["lower","diff","upper"],"as":["k","v"]}],"mark":{"type":"trail","color":"white"},"encoding":{"x":{"field":"v","type":"quantitative","scale":{"domain":[-25,25],"range":[456.7,670.7],"nice":false,"zero":false}},"y":{"field":"row","type":"quantitative","scale":{"domain":[-5.484,13.716],"reverse":true,"nice":false,"zero":false}},"detail":{"field":"row","type":"nominal"},"size":{"condition":{"test":"datum.k === 'diff'","value":7},"value":0}}},
{"data":{"name":"C"},"transform":[{"filter":{"field":"type","equal":"overall"}},{"fold":["lower","diff","upper"],"as":["k","v"]}],"mark":{"type":"trail","color":"black"},"encoding":{"x":{"field":"v","type":"quantitative","scale":{"domain":[-25,25],"range":[456.7,670.7],"nice":false,"zero":false}},"y":{"field":"row","type":"quantitative","scale":{"domain":[-5.484,13.716],"reverse":true,"nice":false,"zero":false}},"detail":{"field":"row","type":"nominal"},"size":{"condition":{"test":"datum.k === 'diff'","value":7},"value":0}}},
{"data":{"name":"C"},"transform":[{"filter":"datum.type !== 'study'"}],"mark":{"type":"rule","strokeWidth":1,"color":"black","y2Offset":-3.5},"encoding":{"x":{"field":"lower","type":"quantitative","scale":{"domain":[-25,25],"range":[456.7,670.7],"nice":false,"zero":false}},"x2":{"field":"diff"},"y":{"field":"row","type":"quantitative","scale":{"domain":[-5.484,13.716],"reverse":true,"nice":false,"zero":false}},"y2":{"field":"row"}}},
{"data":{"name":"C"},"transform":[{"filter":"datum.type !== 'study'"}],"mark":{"type":"rule","strokeWidth":1,"color":"black","y2Offset":3.5},"encoding":{"x":{"field":"lower","type":"quantitative","scale":{"domain":[-25,25],"range":[456.7,670.7],"nice":false,"zero":false}},"x2":{"field":"diff"},"y":{"field":"row","type":"quantitative","scale":{"domain":[-5.484,13.716],"reverse":true,"nice":false,"zero":false}},"y2":{"field":"row"}}},
{"data":{"name":"C"},"transform":[{"filter":"datum.type !== 'study'"}],"mark":{"type":"rule","strokeWidth":1,"color":"black","yOffset":-3.5},"encoding":{"x":{"field":"diff","type":"quantitative","scale":{"domain":[-25,25],"range":[456.7,670.7],"nice":false,"zero":false}},"x2":{"field":"upper"},"y":{"field":"row","type":"quantitative","scale":{"domain":[-5.484,13.716],"reverse":true,"nice":false,"zero":false}},"y2":{"field":"row"}}},
{"data":{"name":"C"},"transform":[{"filter":"datum.type !== 'study'"}],"mark":{"type":"rule","strokeWidth":1,"color":"black","yOffset":3.5},"encoding":{"x":{"field":"diff","type":"quantitative","scale":{"domain":[-25,25],"range":[456.7,670.7],"nice":false,"zero":false}},"x2":{"field":"upper"},"y":{"field":"row","type":"quantitative","scale":{"domain":[-5.484,13.716],"reverse":true,"nice":false,"zero":false}},"y2":{"field":"row"}}},
{"data":{"name":"C"},"transform":[{"filter":{"field":"type","equal":"study"}}],"mark":{"type":"point","shape":"square","filled":true,"size":49,"color":"black","opacity":1},"encoding":{"x":{"field":"diff","type":"quantitative","scale":{"domain":[-25,25],"range":[456.7,670.7],"nice":false,"zero":false}},"y":{"field":"row","type":"quantitative","scale":{"domain":[-5.484,13.716],"reverse":true,"nice":false,"zero":false}}}}
]},
{"layer":[
{"data":{"values":[{}]},"mark":{"type":"text","font":"Liberation Sans","fontSize":12,"fontWeight":"bold","color":"black","align":"left","baseline":"alphabetic","dx":-8},"encoding":{"x":{"datum":"group","type":"nominal","scale":{"type":"point","domain":["group","study"],"range":[14,89],"padding":0}},"y":{"datum":-4.558,"type":"quantitative","scale":{"domain":[-5.484,13.716],"reverse":true,"nice":false,"zero":false}},"text":{"value":"C"}}},
{"data":{"name":"C"},"transform":[{"fold":["group","study"],"as":["key","txt"]}],"mark":{"type":"text","fontSize":7.1,"color":"black","align":"left","baseline":"middle"},"encoding":{"x":{"field":"key","type":"nominal","scale":{"type":"point","domain":["group","study"],"range":[14,89],"padding":0}},"y":{"field":"row","type":"quantitative","scale":{"domain":[-5.484,13.716],"reverse":true,"nice":false,"zero":false}},"text":{"field":"txt","type":"nominal"}}},
{"data":{"name":"hdrL"},"mark":{"type":"text","fontSize":7,"fontWeight":"bold","color":"black","align":"left","baseline":"middle"},"encoding":{"x":{"field":"key","type":"nominal","scale":{"type":"point","domain":["group","study"],"range":[14,89],"padding":0}},"y":{"datum":-2.116,"type":"quantitative","scale":{"domain":[-5.484,13.716],"reverse":true,"nice":false,"zero":false}},"text":{"field":"h1","type":"nominal"}}},
{"data":{"name":"hdrL"},"mark":{"type":"text","fontSize":7,"fontWeight":"bold","color":"black","align":"left","baseline":"middle"},"encoding":{"x":{"field":"key","type":"nominal","scale":{"type":"point","domain":["group","study"],"range":[14,89],"padding":0}},"y":{"datum":-1.383,"type":"quantitative","scale":{"domain":[-5.484,13.716],"reverse":true,"nice":false,"zero":false}},"text":{"field":"h2","type":"nominal"}}},
{"data":{"values":[{}]},"mark":{"type":"rule","strokeWidth":0.8,"color":"black","x2Offset":-5},"encoding":{"x":{"datum":"group","type":"nominal","scale":{"type":"point","domain":["group","study"],"range":[14,89],"padding":0}},"x2":{"datum":"study"},"y":{"datum":-1.804,"type":"quantitative","scale":{"domain":[-5.484,13.716],"reverse":true,"nice":false,"zero":false}}}},
{"data":{"values":[{}]},"mark":{"type":"rule","strokeWidth":0.8,"color":"black","x2Offset":35},"encoding":{"x":{"datum":"study","type":"nominal","scale":{"type":"point","domain":["group","study"],"range":[14,89],"padding":0}},"x2":{"datum":"study"},"y":{"datum":-1.804,"type":"quantitative","scale":{"domain":[-5.484,13.716],"reverse":true,"nice":false,"zero":false}}}}
]},
{"layer":[
{"data":{"name":"C"},"mark":{"type":"text","fontSize":7.1,"color":"black","align":"left","baseline":"middle"},"encoding":{"x":{"datum":"comparison","type":"nominal","scale":{"type":"point","domain":["comparison"],"range":[173,173],"padding":0}},"y":{"field":"row","type":"quantitative","scale":{"domain":[-5.484,13.716],"reverse":true,"nice":false,"zero":false}},"text":{"field":"comparison","type":"nominal"}}},
{"data":{"values":[{}]},"mark":{"type":"text","fontSize":7,"fontWeight":"bold","color":"black","align":"left","baseline":"middle"},"encoding":{"x":{"datum":"comparison","type":"nominal","scale":{"type":"point","domain":["comparison"],"range":[173,173],"padding":0}},"y":{"datum":-2.116,"type":"quantitative","scale":{"domain":[-5.484,13.716],"reverse":true,"nice":false,"zero":false}},"text":{"value":"Comparison"}}},
{"data":{"values":[{}]},"mark":{"type":"rule","strokeWidth":0.8,"color":"black","x2Offset":37},"encoding":{"x":{"datum":"comparison","type":"nominal","scale":{"type":"point","domain":["comparison"],"range":[173,173],"padding":0}},"x2":{"datum":"comparison"},"y":{"datum":-1.804,"type":"quantitative","scale":{"domain":[-5.484,13.716],"reverse":true,"nice":false,"zero":false}}}}
]},
{"layer":[
{"data":{"name":"C"},"transform":[{"fold":["diff","se","variance"],"as":["key","val"]}],"mark":{"type":"text","fontSize":7.5,"color":"black","align":"right","baseline":"middle"},"encoding":{"x":{"field":"key","type":"nominal","scale":{"type":"point","domain":["diff","se","variance"],"range":[248.5,314.5],"padding":0}},"y":{"field":"row","type":"quantitative","scale":{"domain":[-5.484,13.716],"reverse":true,"nice":false,"zero":false}},"text":{"field":"val","type":"quantitative","format":".3f"}}},
{"data":{"name":"hdrN"},"transform":[{"filter":{"field":"key","oneOf":["diff","se","variance"]}}],"mark":{"type":"text","fontSize":7,"fontWeight":"bold","color":"black","align":"center","baseline":"middle","dx":-13},"encoding":{"x":{"field":"key","type":"nominal","scale":{"type":"point","domain":["diff","se","variance"],"range":[248.5,314.5],"padding":0}},"y":{"datum":-0.853,"type":"quantitative","scale":{"domain":[-5.484,13.716],"reverse":true,"nice":false,"zero":false}},"text":{"field":"h1","type":"nominal"}}},
{"data":{"name":"hdrN"},"transform":[{"filter":{"field":"key","oneOf":["diff","se","variance"]}}],"mark":{"type":"text","fontSize":7,"fontWeight":"bold","color":"black","align":"center","baseline":"middle","dx":-13},"encoding":{"x":{"field":"key","type":"nominal","scale":{"type":"point","domain":["diff","se","variance"],"range":[248.5,314.5],"padding":0}},"y":{"datum":-0.154,"type":"quantitative","scale":{"domain":[-5.484,13.716],"reverse":true,"nice":false,"zero":false}},"text":{"field":"h2","type":"nominal"}}},
{"data":{"values":[{}]},"mark":{"type":"text","fontSize":7,"fontWeight":"bold","color":"black","align":"center","baseline":"middle","dx":5.5},"encoding":{"x":{"datum":"variance","type":"nominal","scale":{"type":"point","domain":["diff","se","variance"],"range":[248.5,314.5],"padding":0}},"y":{"datum":-2.116,"type":"quantitative","scale":{"domain":[-5.484,13.716],"reverse":true,"nice":false,"zero":false}},"text":{"value":"Statistics for each study"}}},
{"data":{"values":[{}]},"mark":{"type":"rule","strokeWidth":0.8,"color":"black","xOffset":3,"x2Offset":41},"encoding":{"x":{"datum":"se","type":"nominal","scale":{"type":"point","domain":["diff","se","variance"],"range":[248.5,314.5],"padding":0}},"x2":{"datum":"variance"},"y":{"datum":-1.804,"type":"quantitative","scale":{"domain":[-5.484,13.716],"reverse":true,"nice":false,"zero":false}}}}
]},
{"layer":[
{"data":{"name":"C"},"transform":[{"fold":["lower","upper","z","p"],"as":["key","val"]}],"mark":{"type":"text","fontSize":7.5,"color":"black","align":"right","baseline":"middle"},"encoding":{"x":{"field":"key","type":"nominal","scale":{"type":"point","domain":["lower","upper","z","p"],"range":[340.7,424],"padding":0}},"y":{"field":"row","type":"quantitative","scale":{"domain":[-5.484,13.716],"reverse":true,"nice":false,"zero":false}},"text":{"field":"val","type":"quantitative","format":".3f"}}},
{"data":{"name":"hdrN"},"transform":[{"filter":{"field":"key","oneOf":["lower","upper","z","p"]}}],"mark":{"type":"text","fontSize":7,"fontWeight":"bold","color":"black","align":"center","baseline":"middle","dx":-13},"encoding":{"x":{"field":"key","type":"nominal","scale":{"type":"point","domain":["lower","upper","z","p"],"range":[340.7,424],"padding":0}},"y":{"datum":-0.853,"type":"quantitative","scale":{"domain":[-5.484,13.716],"reverse":true,"nice":false,"zero":false}},"text":{"field":"h1","type":"nominal"}}},
{"data":{"name":"hdrN"},"transform":[{"filter":{"field":"key","oneOf":["lower","upper","z","p"]}}],"mark":{"type":"text","fontSize":7,"fontWeight":"bold","color":"black","align":"center","baseline":"middle","dx":-13},"encoding":{"x":{"field":"key","type":"nominal","scale":{"type":"point","domain":["lower","upper","z","p"],"range":[340.7,424],"padding":0}},"y":{"datum":-0.154,"type":"quantitative","scale":{"domain":[-5.484,13.716],"reverse":true,"nice":false,"zero":false}},"text":{"field":"h2","type":"nominal"}}}
]}
]
}
]
}
